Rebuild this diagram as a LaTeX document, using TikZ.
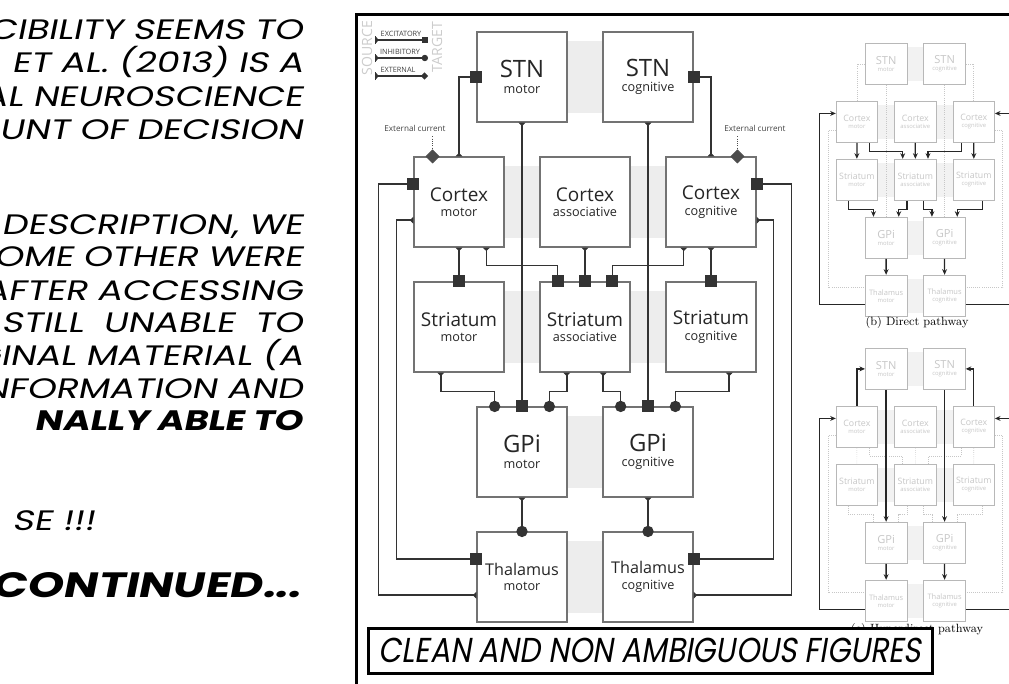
\documentclass[tikz,border=0pt]{standalone}
\usepackage{fontspec}
\usetikzlibrary{arrows.meta,calc,positioning}
\newfontfamily\bgfont{Open Sans}
\newfontfamily\comicfont[FakeSlant=0.2, FakeStretch=1.3]{Poppins}
\newfontfamily\titlefont[FakeSlant=0.2]{Poppins}

\tikzset{
  bgbox/.style  = {rectangle, draw=black!55, line width=0.8pt, fill=white,
                   minimum width=22.5mm, minimum height=22.5mm, inner sep=0pt,
                   align=center, font=\bgfont, text=black!85},
  fadebox/.style= {bgbox, draw=black!28, line width=0.6pt, text=black!22},
  band/.style   = {fill=black!7},
  fband/.style  = {fill=black!5},
  link/.style   = {draw=black!80, line width=1.1pt},
  exc/.style    = {link, {Triangle[reversed,length=2.5pt,width=5pt]}-{Square[length=8.5pt,width=8.5pt]},
                   shorten >=-4.25pt},
  inh/.style    = {link, {Triangle[reversed,length=2.5pt,width=5pt]}-{Circle[length=8pt]},
                   shorten >=-4pt},
  ext/.style    = {draw=black!70, line width=0.6pt, densely dotted,
                   -{Turned Square[length=10pt,width=10pt]}, shorten >=-5pt},
  dpath/.style  = {draw=black!85, line width=0.9pt, -{Stealth[length=4pt,width=3.5pt]}},
  fpath/.style  = {draw=black!22, line width=0.5pt, densely dotted},
  leg/.style    = {draw=black!80, line width=0.8pt},
  leglab/.style = {font=\bgfont\fontsize{5.2}{6}\selectfont, text=black!75, inner sep=0pt},
  legend/.style = {font=\bgfont\fontsize{10}{10}\selectfont, text=black!20, rotate=90, inner sep=0pt},
  extlab/.style = {font=\bgfont\fontsize{5.8}{6}\selectfont, text=black!75, inner sep=0pt},
  comic/.style  = {font=\comicfont\fontsize{20}{20}\selectfont, inner sep=0pt, anchor=base east},
  subcap/.style = {font=\fontsize{8.5}{9}\selectfont, inner sep=0pt},
}

% box label: size, name, part
\newcommand{\bglab}[3]{{\fontsize{#1}{#1}\selectfont #2}\\[-1pt]{\fontsize{9}{10}\selectfont #3}}

% the twelve boxes, #1 prefix, #2 box style, #3 band style
\newcommand{\bgboxes}[3]{%
  \fill[#3] (477,41) rectangle (693,113);
  \fill[#3] (414,166) rectangle (756,238);
  \fill[#3] (414,291) rectangle (756,363);
  \fill[#3] (477,416) rectangle (693,488);
  \fill[#3] (477,541) rectangle (693,613);
  \node[#2] (#1stnm) at (522,77)  {\bglab{17}{STN}{motor}};
  \node[#2] (#1stnc) at (648,77)  {\bglab{17}{STN}{cognitive}};
  \node[#2] (#1ctxm) at (459,202) {\bglab{13.5}{Cortex}{motor}};
  \node[#2] (#1ctxa) at (585,202) {\bglab{13.5}{Cortex}{associative}};
  \node[#2] (#1ctxc) at (711,202) {\bglab{13.5}{Cortex}{cognitive}};
  \node[#2] (#1strm) at (459,327) {\bglab{13.5}{Striatum}{motor}};
  \node[#2] (#1stra) at (585,327) {\bglab{13.5}{Striatum}{associative}};
  \node[#2] (#1strc) at (711,327) {\bglab{13.5}{Striatum}{cognitive}};
  \node[#2] (#1gpim) at (522,452) {\bglab{17}{GPi}{motor}};
  \node[#2] (#1gpic) at (648,452) {\bglab{17}{GPi}{cognitive}};
  \node[#2] (#1thm)  at (522,577) {\bglab{11.5}{Thalamus}{motor}};
  \node[#2] (#1thc)  at (648,577) {\bglab{11.5}{Thalamus}{cognitive}};
}

% cortex -> STN
\newcommand{\ctxstn}[2]{%
  \draw[#2] (#1ctxm.north) |- (#1stnm.west);
  \draw[#2] (#1ctxc.north) |- (#1stnc.east);
}
% STN -> GPi
\newcommand{\stngpi}[2]{%
  \draw[#2] (#1stnm) -- (#1gpim);
  \draw[#2] (#1stnc) -- (#1gpic);
}
% cortex -> striatum
\newcommand{\ctxstr}[2]{%
  \draw[#2] (#1ctxm) -- (#1strm);
  \draw[#2] ($(#1ctxm.south)!0.6!(#1ctxm.south east)$) -- ++(0,18)
            -| ($(#1stra.north)!0.6!(#1stra.north west)$);
  \draw[#2] (#1ctxa) -- (#1stra);
  \draw[#2] ($(#1ctxc.south)!0.6!(#1ctxc.south west)$) -- ++(0,18)
            -| ($(#1stra.north)!0.6!(#1stra.north east)$);
  \draw[#2] (#1ctxc) -- (#1strc);
}
% striatum -> GPi
\newcommand{\strgpi}[2]{%
  \draw[#2] ($(#1strm.south)!0.4!(#1strm.south west)$) -- ++(0,19)
            -| ($(#1gpim.north)!0.6!(#1gpim.north west)$);
  \draw[#2] ($(#1stra.south)!0.4!(#1stra.south west)$) -- ++(0,19)
            -| ($(#1gpim.north)!0.6!(#1gpim.north east)$);
  \draw[#2] ($(#1stra.south)!0.4!(#1stra.south east)$) -- ++(0,19)
            -| ($(#1gpic.north)!0.6!(#1gpic.north west)$);
  \draw[#2] ($(#1strc.south)!0.4!(#1strc.south east)$) -- ++(0,19)
            -| ($(#1gpic.north)!0.6!(#1gpic.north east)$);
}
% GPi -> thalamus
\newcommand{\gpith}[2]{%
  \draw[#2] (#1gpim) -- (#1thm);
  \draw[#2] (#1gpic) -- (#1thc);
}
% thalamus -> cortex (outer loop)
\newcommand{\thctx}[2]{%
  \draw[#2] ($(#1thm.west)!0.4!(#1thm.south west)$) -- ++(-98,0)
            |- ($(#1ctxm.west)!0.4!(#1ctxm.north west)$);
  \draw[#2] ($(#1thc.east)!0.4!(#1thc.south east)$) -- ++(98,0)
            |- ($(#1ctxc.east)!0.4!(#1ctxc.north east)$);
}
% cortex -> thalamus (inner loop)
\newcommand{\ctxth}[2]{%
  \draw[#2] ($(#1ctxm.west)!0.4!(#1ctxm.south west)$) -- ++(-17,0)
            |- ($(#1thm.west)!0.4!(#1thm.north west)$);
  \draw[#2] ($(#1ctxc.east)!0.4!(#1ctxc.south east)$) -- ++(17,0)
            |- ($(#1thc.east)!0.4!(#1thc.north east)$);
}

\begin{document}
\begin{tikzpicture}[x=0.25mm, y=-0.25mm]
\useasboundingbox (0,0) rectangle (1009,684);
\clip (0,0) rectangle (1009,684);

%% -- comic text, left column --------------------------------
\node[comic] (txt1)  at (303,40)  {CIBILITY SEEMS TO};
\node[comic] (txt2)  at (303,73)  {ET AL. (2013) IS A};
\node[comic] (txt3)  at (303,107) {AL NEUROSCIENCE};
\node[comic] (txt4)  at (303,140) {OUNT OF DECISION};
\node[comic] (txt5)  at (303,235) {E DESCRIPTION, WE};
\node[comic] (txt6)  at (303,267) {OME OTHER WERE};
\node[comic] (txt7)  at (303,300) {AFTER ACCESSING};
\node[comic] (txt8)  at (303,332) {STILL\ \ UNABLE\ \ TO};
\node[comic] (txt9)  at (303,365) {GINAL MATERIAL (A};
\node[comic] (txt10) at (303,398) {INFORMATION AND};
\node[comic] (txt11) at (303,430) {\bfseries NALLY ABLE TO};
\node[comic] (txt12) at (95,530)  {SE !!!};
\node[comic, font=\comicfont\bfseries\fontsize{25}{25}\selectfont] (txt13) at (301,597)
  {CONTINUED...};

%% -- panel frame ----------------------------------------------
\draw[line width=0.75mm, line cap=rect] (356,700) |- (1020,15);

%% -- main diagram ---------------------------------------------
\bgboxes{}{bgbox}{band}

\ctxstn{}{exc}
\stngpi{}{exc}
\ctxstr{}{exc}
\strgpi{}{inh}
\gpith{}{inh}
\thctx{}{exc}
\ctxth{}{exc}

%% external current
\node[extlab] (extlm) at (415,128) {External current};
\node[extlab] (extlc) at (755,128) {External current};
\coordinate (extm) at ($(ctxm.north)!0.58!(ctxm.north west)+(0,-20)$);
\coordinate (extc) at ($(ctxc.north)!0.58!(ctxc.north east)+(0,-20)$);
\draw[ext] (extm) -- ++(0,20);
\draw[ext] (extc) -- ++(0,20);

%% legend
\node[legend] (lgsrc) at (367,48) {SOURCE};
\node[legend] (lgtgt) at (437,47) {TARGET};
\node[leglab] (lgexc) at (401,34) {EXCITATORY};
\node[leglab] (lginh) at (400,52) {INHIBITORY};
\node[leglab] (lgext) at (398,70) {EXTERNAL};
\coordinate (lga1) at (375,40); \coordinate (lgb1) at (428,40);
\coordinate (lga2) at (375,58); \coordinate (lgb2) at (428,58);
\coordinate (lga3) at (375,76); \coordinate (lgb3) at (428,76);
\draw[leg, {Bar[width=6pt]Triangle[reversed,length=2pt,width=4pt]}-{Square[length=4.5pt,width=4.5pt]}]
  (lga1) -- (lgb1);
\draw[leg, {Bar[width=6pt]Triangle[reversed,length=2pt,width=4pt]}-{Circle[length=4.5pt]}]
  (lga2) -- (lgb2);
\draw[leg, {Bar[width=6pt]Triangle[reversed,length=2pt,width=4pt]}-{Turned Square[length=5pt,width=5pt]}]
  (lga3) -- (lgb3);

%% -- (b) direct pathway ---------------------------------------
\begin{scope}[shift={(643.9,28.15)}, scale=0.464, transform shape]
  \bgboxes{b}{fadebox}{fband}
  \ctxstn{b}{fpath}
  \stngpi{b}{fpath}
  \ctxth{b}{fpath}
  \ctxstr{b}{dpath}
  \strgpi{b}{dpath}
  \gpith{b}{dpath}
  \thctx{b}{dpath}
\end{scope}
\node[subcap] (capb) at (917,323) {(b) Direct pathway};

%% -- (c) hyperdirect pathway ----------------------------------
\begin{scope}[shift={(643.9,333.15)}, scale=0.464, transform shape]
  \bgboxes{c}{fadebox}{fband}
  \ctxstr{c}{fpath}
  \strgpi{c}{fpath}
  \ctxth{c}{fpath}
  \ctxstn{c}{dpath}
  \stngpi{c}{dpath}
  \gpith{c}{dpath}
  \thctx{c}{dpath}
\end{scope}
\node[subcap] (capc) at (917,630) {(c) Hyperdirect pathway};

%% -- caption box ----------------------------------------------
\node[draw=black, line width=0.75mm, fill=white, minimum width=141mm,
      minimum height=11.25mm, inner sep=0pt] (title) at (650,650.5)
  {\resizebox{135.5mm}{6.1mm}{\titlefont CLEAN AND NON AMBIGUOUS FIGURES}};

\end{tikzpicture}
\end{document}
